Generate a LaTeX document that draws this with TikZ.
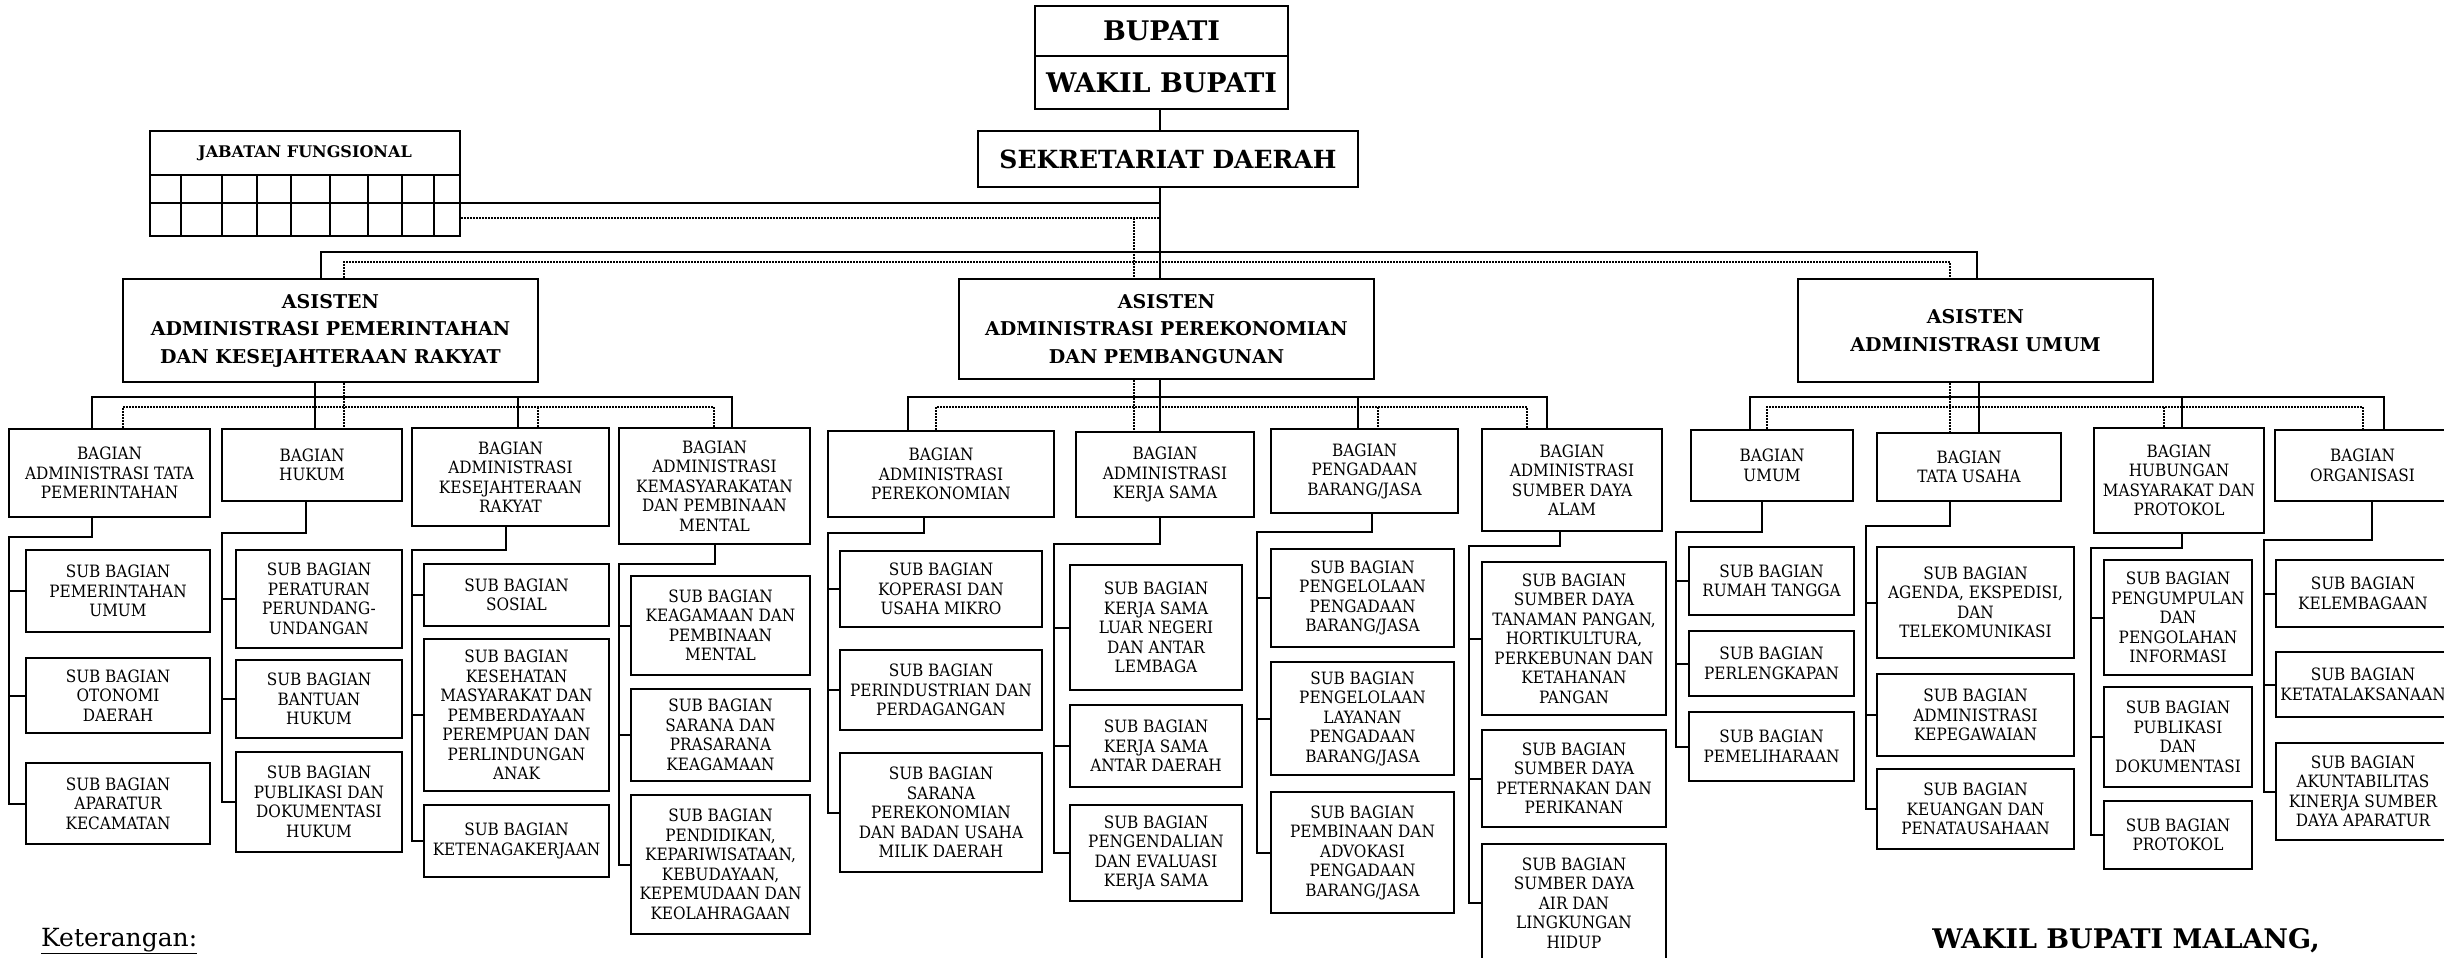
\documentclass[tikz,border=0pt]{standalone}
\usepackage{fontspec}
\setmainfont{DejaVu Serif Condensed}
\newfontfamily\tfont{DejaVu Serif}
\usetikzlibrary{calc}
\tikzset{
  box/.style={draw, line width=2.4pt, inner sep=0pt, align=center, font=\fontsize{17}{19.5}\selectfont},
  ln/.style={line width=2pt},
  dot/.style={line width=1.8pt, dash pattern=on 1.6pt off 1.4pt},
}
\newcommand\bx[6]{\node[box, minimum width={(#4-#2)*1pt}, minimum height={(#5-#3)*1pt}] (#1) at ({(#2+#4)/2},{(#3+#5)/2}) {#6};}
\newcommand\tbx[7]{\node[box, #7, minimum width={(#4-#2)*1pt}, minimum height={(#5-#3)*1pt}] (#1) at ({(#2+#4)/2},{(#3+#5)/2}) {#6};}
\begin{document}
\begin{tikzpicture}[x=1pt, y=-1pt]
\useasboundingbox[fill=white] (0,0) rectangle (2444,958);
% top
\tbx{bup}{1035}{6}{1288}{56}{BUPATI}{font=\tfont\bfseries\fontsize{27}{28}\selectfont}
\tbx{wb}{1035}{56}{1288}{109}{WAKIL BUPATI}{font=\tfont\bfseries\fontsize{27}{28}\selectfont}
\tbx{sek}{978}{131}{1358}{187}{SEKRETARIAT DAERAH}{font=\tfont\bfseries\fontsize{25}{28}\selectfont}
\tbx{jab}{150}{131}{460}{175}{JABATAN FUNGSIONAL}{font=\tfont\bfseries\fontsize{16}{20}\selectfont}
\tbx{jg}{150}{175}{460}{236}{}{}
\foreach \gx in {181,222,257,291,330,368,402,434} \draw[ln] (\gx,175) -- (\gx,236);
\draw[ln] (150,203) -- (460,203);
\tbx{as1}{123}{279}{538}{382}{ASISTEN\\ADMINISTRASI PEMERINTAHAN\\DAN KESEJAHTERAAN RAKYAT}{font=\tfont\bfseries\fontsize{19}{27.5}\selectfont}
\tbx{as2}{959}{279}{1374}{379}{ASISTEN\\ADMINISTRASI PEREKONOMIAN\\DAN PEMBANGUNAN}{font=\tfont\bfseries\fontsize{19}{27.5}\selectfont}
\tbx{as3}{1798}{279}{2153}{382}{ASISTEN\\ADMINISTRASI UMUM}{font=\tfont\bfseries\fontsize{19}{27.5}\selectfont}
% bagian
\bx{b1}{9}{429}{210}{517}{BAGIAN\\ADMINISTRASI TATA\\PEMERINTAHAN}
\bx{b2}{222}{429}{402}{501}{BAGIAN\\HUKUM}
\bx{b3}{412}{428}{609}{526}{BAGIAN\\ADMINISTRASI\\KESEJAHTERAAN\\RAKYAT}
\bx{b4}{619}{428}{810}{544}{BAGIAN\\ADMINISTRASI\\KEMASYARAKATAN\\DAN PEMBINAAN\\MENTAL}
\bx{b5}{828}{431}{1054}{517}{BAGIAN\\ADMINISTRASI\\PEREKONOMIAN}
\bx{b6}{1076}{432}{1254}{517}{BAGIAN\\ADMINISTRASI\\KERJA SAMA}
\bx{b7}{1271}{429}{1458}{513}{BAGIAN\\PENGADAAN\\BARANG/JASA}
\bx{b8}{1482}{429}{1662}{531}{BAGIAN\\ADMINISTRASI\\SUMBER DAYA\\ALAM}
\bx{b9}{1691}{430}{1853}{501}{BAGIAN\\UMUM}
\bx{b10}{1877}{433}{2061}{501}{BAGIAN\\TATA USAHA}
\bx{b11}{2094}{428}{2264}{533}{BAGIAN\\HUBUNGAN\\MASYARAKAT DAN\\PROTOKOL}
\bx{b12}{2275}{430}{2450}{501}{BAGIAN\\ORGANISASI}
% sub bagian
\bx{s11}{26}{550}{210}{632}{SUB BAGIAN\\PEMERINTAHAN\\UMUM}
\bx{s12}{26}{658}{210}{733}{SUB BAGIAN\\OTONOMI\\DAERAH}
\bx{s13}{26}{763}{210}{844}{SUB BAGIAN\\APARATUR\\KECAMATAN}
\bx{s21}{236}{550}{402}{648}{SUB BAGIAN\\PERATURAN\\PERUNDANG-\\UNDANGAN}
\bx{s22}{236}{660}{402}{738}{SUB BAGIAN\\BANTUAN\\HUKUM}
\bx{s23}{236}{752}{402}{852}{SUB BAGIAN\\PUBLIKASI DAN\\DOKUMENTASI\\HUKUM}
\bx{s31}{424}{564}{609}{626}{SUB BAGIAN\\SOSIAL}
\bx{s32}{424}{639}{609}{791}{SUB BAGIAN\\KESEHATAN\\MASYARAKAT DAN\\PEMBERDAYAAN\\PEREMPUAN DAN\\PERLINDUNGAN\\ANAK}
\bx{s33}{424}{805}{609}{877}{SUB BAGIAN\\KETENAGAKERJAAN}
\bx{s41}{631}{576}{810}{675}{SUB BAGIAN\\KEAGAMAAN DAN\\PEMBINAAN\\MENTAL}
\bx{s42}{631}{689}{810}{781}{SUB BAGIAN\\SARANA DAN\\PRASARANA\\KEAGAMAAN}
\bx{s43}{631}{795}{810}{934}{SUB BAGIAN\\PENDIDIKAN,\\KEPARIWISATAAN,\\KEBUDAYAAN,\\KEPEMUDAAN DAN\\KEOLAHRAGAAN}
\bx{s51}{840}{551}{1042}{627}{SUB BAGIAN\\KOPERASI DAN\\USAHA MIKRO}
\bx{s52}{840}{650}{1042}{730}{SUB BAGIAN\\PERINDUSTRIAN DAN\\PERDAGANGAN}
\bx{s53}{840}{753}{1042}{872}{SUB BAGIAN\\SARANA\\PEREKONOMIAN\\DAN BADAN USAHA\\MILIK DAERAH}
\bx{s61}{1070}{565}{1242}{690}{SUB BAGIAN\\KERJA SAMA\\LUAR NEGERI\\DAN ANTAR\\LEMBAGA}
\bx{s62}{1070}{705}{1242}{787}{SUB BAGIAN\\KERJA SAMA\\ANTAR DAERAH}
\bx{s63}{1070}{805}{1242}{901}{SUB BAGIAN\\PENGENDALIAN\\DAN EVALUASI\\KERJA SAMA}
\bx{s71}{1271}{549}{1454}{647}{SUB BAGIAN\\PENGELOLAAN\\PENGADAAN\\BARANG/JASA}
\bx{s72}{1271}{662}{1454}{775}{SUB BAGIAN\\PENGELOLAAN\\LAYANAN\\PENGADAAN\\BARANG/JASA}
\bx{s73}{1271}{792}{1454}{913}{SUB BAGIAN\\PEMBINAAN DAN\\ADVOKASI\\PENGADAAN\\BARANG/JASA}
\bx{s81}{1482}{562}{1666}{715}{SUB BAGIAN\\SUMBER DAYA\\TANAMAN PANGAN,\\HORTIKULTURA,\\PERKEBUNAN DAN\\KETAHANAN\\PANGAN}
\bx{s82}{1482}{730}{1666}{827}{SUB BAGIAN\\SUMBER DAYA\\PETERNAKAN DAN\\PERIKANAN}
\bx{s83}{1482}{844}{1666}{962}{SUB BAGIAN\\SUMBER DAYA\\AIR DAN\\LINGKUNGAN\\HIDUP}
\bx{s91}{1689}{547}{1854}{615}{SUB BAGIAN\\RUMAH TANGGA}
\bx{s92}{1689}{631}{1854}{696}{SUB BAGIAN\\PERLENGKAPAN}
\bx{s93}{1689}{712}{1854}{781}{SUB BAGIAN\\PEMELIHARAAN}
\bx{s101}{1877}{547}{2074}{658}{SUB BAGIAN\\AGENDA, EKSPEDISI,\\DAN\\TELEKOMUNIKASI}
\bx{s102}{1877}{674}{2074}{756}{SUB BAGIAN\\ADMINISTRASI\\KEPEGAWAIAN}
\bx{s103}{1877}{769}{2074}{849}{SUB BAGIAN\\KEUANGAN DAN\\PENATAUSAHAAN}
\bx{s111}{2104}{560}{2252}{675}{SUB BAGIAN\\PENGUMPULAN\\DAN\\PENGOLAHAN\\INFORMASI}
\bx{s112}{2104}{687}{2252}{787}{SUB BAGIAN\\PUBLIKASI\\DAN\\DOKUMENTASI}
\bx{s113}{2104}{801}{2252}{869}{SUB BAGIAN\\PROTOKOL}
\bx{s121}{2276}{560}{2450}{627}{SUB BAGIAN\\KELEMBAGAAN}
\bx{s122}{2276}{652}{2450}{717}{SUB BAGIAN\\KETATALAKSANAAN}
\bx{s123}{2276}{743}{2450}{840}{SUB BAGIAN\\AKUNTABILITAS\\KINERJA SUMBER\\DAYA APARATUR}
% top connectors
\coordinate (tc) at (1160,252);
\coordinate (tb1) at (321,252); \coordinate (tb3) at (1977,252);
\coordinate (td1) at (344,262); \coordinate (td3) at (1950,262);
\coordinate (jm) at (460,203); \coordinate (jd) at (1134,218);
\draw[ln] (wb.south -| tc) -- (sek.north -| tc);
\draw[ln] (sek.south -| tc) -- (as2.north -| tc);
\draw[ln] (jm) -- (tc |- jm);
\draw[ln] (as1.north -| tb1) -- (tb1) -- (tb3) -- (as3.north -| tb3);
\draw[dot] (jg.east |- jd) -- (tc |- jd);
\draw[dot] (jd) -- (as2.north -| jd);
\draw[dot] (as1.north -| td1) -- (td1) -- (td3) -- (as3.north -| td3);
% group connectors: solid a,b,s,c ; dotted a,b,s,c
\foreach \A/\L/\M/\N/\R/\sa/\sb/\ss/\sc/\da/\db/\ds/\dc in
 {as1/b1/b2/b3/b4/92/732/315/518/123/714/344/538,
  as2/b5/b6/b7/b8/908/1547/1160/1358/936/1527/1134/1378,
  as3/b9/b10/b11/b12/1750/2384/1979/2182/1767/2363/1950/2164}{
  \draw[ln] (\L.north -| \sa,0) -- (\sa,397) -- (\sb,397) -- (\R.north -| \sb,0);
  \draw[ln] (\A.south -| \ss,0) -- (\M.north -| \ss,0);
  \draw[ln] (\sc,397) -- (\N.north -| \sc,0);
  \draw[dot] (\L.north -| \da,0) -- (\da,407) -- (\db,407) -- (\R.north -| \db,0);
  \draw[dot] (\A.south -| \ds,0) -- (\M.north -| \ds,0);
  \draw[dot] (\dc,407) -- (\N.north -| \dc,0);
}
% sub trees
\foreach \k/\ex/\ey/\sx in {1/92/537/9.4, 2/306/533/222, 3/506/550/412, 4/715/564/619,
  5/924/533/828, 6/1160/544/1054, 7/1372/532/1257, 8/1560/546/1468.5,
  9/1762/532/1676, 10/1950/526/1866, 11/2182/548/2091, 12/2372/540/2264}{
  \coordinate (e\k) at (\ex,\ey);
  \coordinate (p\k) at (\sx,\ey);
  \draw[ln] (b\k.south -| e\k) -- (e\k) -- (p\k) -- (p\k |- s\k3.west) -- (s\k3.west);
  \draw[ln] (p\k |- s\k1.west) -- (s\k1.west);
  \draw[ln] (p\k |- s\k2.west) -- (s\k2.west);
}
\node[anchor=base west, inner sep=0pt, font=\tfont\fontsize{25}{27}\selectfont] (ket) at (41,946) {\underline{Keterangan:}};
\node[anchor=base, inner sep=0pt, font=\tfont\bfseries\fontsize{27}{30}\selectfont] (ttd) at (2126,948) {WAKIL BUPATI MALANG,};
\end{tikzpicture}
\end{document}
